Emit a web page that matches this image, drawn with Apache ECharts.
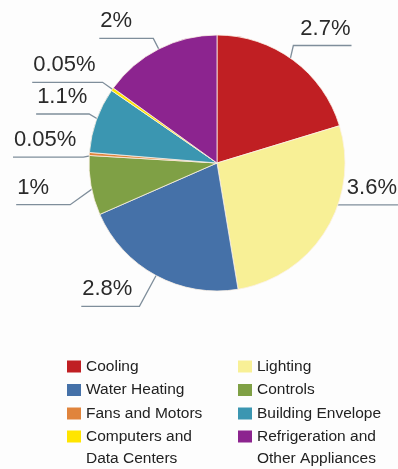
<!DOCTYPE html>
<html>
<head>
<meta charset="utf-8">
<script src="https://cdn.jsdelivr.net/npm/echarts@6/dist/echarts.min.js"></script>
<style>
html,body{margin:0;padding:0;background:#fdfdfd;}
#chart{width:398px;height:469px;}
</style>
</head>
<body>
<div id="chart"></div>
<script>
const categories = ['Cooling', 'Lighting', 'Water Heating', 'Controls', 'Fans and Motors', 'Building Envelope', 'Computers and\nData Centers', 'Refrigeration and\nOther Appliances'];
const values = [2.7, 3.6, 2.8, 1, 0.05, 1.1, 0.05, 2];
const colors = ['#c01f23', '#f8f096', '#4571a8', '#7fa045', '#e0843c', '#3b96b1', '#ffe500', '#8c248f'];
const legendCol1 = ['Cooling', 'Water Heating', 'Fans and Motors'];
const legendCol2 = ['Lighting', 'Controls', 'Building Envelope'];
const legendLast1 = 'Computers and\nData Centers';
const legendLast2 = 'Refrigeration and\nOther Appliances';
// label-line styling tweaks (style only, not data)
const lineLenByName = {'Water Heating': 35};
const labelTweaks = {
  'Cooling': {bend: [-7, -5]},
  'Controls': {bend: [-9, 17]},
  'Lighting': {bend: [-8, -32], flat: true, len: 70},
  'Fans and Motors': {bend: [6, 4]},
  'Building Envelope': {bend: [4, -2], len: 53}
};

const FONT = '"Liberation Sans", Arial, sans-serif';
const LABEL_SIZE = 22;
const chart = echarts.init(document.getElementById('chart'), null, {renderer: 'canvas'});
const mctx = document.createElement('canvas').getContext('2d');
mctx.font = LABEL_SIZE + 'px ' + FONT;

const legendBase = {
  orient: 'vertical',
  padding: 0,
  itemWidth: 14,
  itemHeight: 12,
  itemGap: 5.5,
  icon: 'rect',
  selectedMode: false,
  itemStyle: {borderWidth: 0},
  textStyle: {fontFamily: FONT, fontSize: 15.5, color: '#222', lineHeight: 18}
};
const lastLegend = {
  textStyle: {fontFamily: FONT, fontSize: 15.5, color: '#222', lineHeight: 22},
  formatter: function (name) { return '\n' + name; }
};

chart.setOption({
  backgroundColor: '#fdfdfd',
  animation: false,
  color: colors,
  legend: [
    Object.assign({}, legendBase, {left: 67, top: 357.5, data: legendCol1}),
    Object.assign({}, legendBase, {left: 238, top: 357.5, data: legendCol2}),
    Object.assign({}, legendBase, lastLegend, {left: 67, top: 403.5, data: [legendLast1]}),
    Object.assign({}, legendBase, lastLegend, {left: 238, top: 403.5, data: [legendLast2]})
  ],
  series: [{
    type: 'pie',
    center: [217, 163],
    radius: 128,
    startAngle: 90,
    clockwise: true,
    emphasis: {disabled: true},
    itemStyle: {borderColor: '#fbf1e6', borderWidth: 0.8},
    label: {
      show: true,
      position: 'outside',
      formatter: '{c}%',
      fontFamily: FONT,
      fontSize: LABEL_SIZE,
      color: '#2a2a2a'
    },
    labelLine: {
      show: true,
      length: 12,
      length2: 20,
      lineStyle: {color: '#7f8e9b', width: 1.3}
    },
    labelLayout: function (p) {
      const pts = p.labelLinePoints;
      if (!pts || pts.length < 3) return {};
      const name = categories[p.dataIndex];
      const tw = labelTweaks[name] || {};
      const a = pts[0], c = pts[2];
      let b = pts[1].slice();
      const left = c[0] < b[0];
      const dir = left ? -1 : 1;
      if (tw.bend) b = [b[0] + tw.bend[0], b[1] + tw.bend[1]];
      const w = mctx.measureText(p.text).width;
      const len = tw.len || Math.max(w + 8, 54);
      const end = [b[0] + dir * len, b[1]];
      const dx = a[0] - pts[1][0], dy = a[1] - pts[1][1];
      const d = Math.hypot(dx, dy) || 1;
      const start = tw.flat ? b.slice() : [a[0] + dx / d * 8, a[1] + dy / d * 8];
      return {
        x: left ? end[0] + 1 : end[0] - 1,
        y: b[1] - 6,
        width: 120,
        align: left ? 'left' : 'right',
        verticalAlign: 'bottom',
        labelLinePoints: [start, b, end]
      };
    },
    data: categories.map((n, i) => {
      const item = {name: n, value: values[i]};
      if (lineLenByName[n]) item.labelLine = {length: lineLenByName[n]};
      return item;
    })
  }]
});
</script>
</body>
</html>
